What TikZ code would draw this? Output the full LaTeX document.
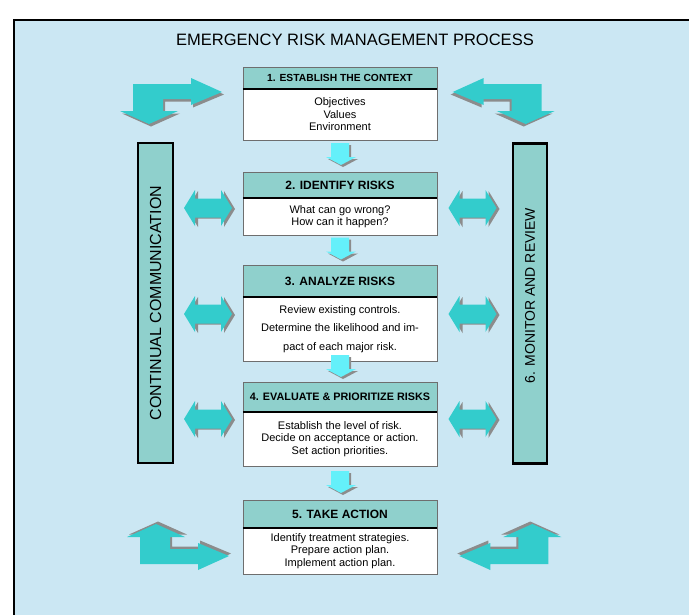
\documentclass[tikz,border=0pt]{standalone}
\usepackage{fontspec}
\setmainfont{Liberation Sans}
\usetikzlibrary{calc}
\definecolor{bgblue}{RGB}{203,231,243}
\definecolor{hdrteal}{RGB}{143,208,204}
\definecolor{arrowteal}{RGB}{51,204,204}
\definecolor{downcyan}{RGB}{100,240,250}
\definecolor{shadowgray}{RGB}{140,140,140}
\definecolor{boxgray}{RGB}{110,110,110}

\newcommand{\bentpath}{(0,0) -- (58,0) -- (58,-6) -- (89,8) -- (58,21) -- (58,15) -- (30,15) -- (30,27) -- (45,27) -- (16,40) -- (-13,27) -- (0,27) -- cycle}
\newcommand{\dblpath}{(-24,0) -- (-13,-18) -- (-13,-9.5) -- (13,-9.5) -- (13,-18) -- (24,0) -- (13,18) -- (13,9.5) -- (-13,9.5) -- (-13,18) -- cycle}
\newcommand{\downpath}{(-9,-11) -- (9,-11) -- (9,3) -- (16,3) -- (1,11) -- (-14,3) -- (-9,3) -- cycle}

\begin{document}
\begin{tikzpicture}[x=1pt, y=-1pt,
        hdr/.style={draw=boxgray, fill=hdrteal, minimum width=194pt, inner sep=0pt, font=\bfseries\fontsize{12}{14}\selectfont},
        body/.style={draw=boxgray, fill=white, minimum width=194pt, inner sep=0pt, align=center, font=\fontsize{11}{12.5}\selectfont},
        sepline/.style={line width=2.5pt, black},
        sidebar/.style={draw=black, line width=2.5pt, fill=hdrteal, rotate=90, minimum width=320pt, inner sep=0pt},
        blockarrow/.style={fill=arrowteal},
        blockshadow/.style={fill=shadowgray}]
        \useasboundingbox (0,0) rectangle (689,614);
        \clip (0,0) rectangle (689,614);
        \fill[bgblue] (14,20) rectangle (700,620);
        \draw[line width=1.2pt] (14,625) -- (14,20) -- (700,20);

        \node[font=\fontsize{16.5}{18}\selectfont] (title) at (355,40) {EMERGENCY RISK MANAGEMENT PROCESS};

        % process steps
        \node[hdr, minimum height=22pt, font=\bfseries\fontsize{10.3}{12}\selectfont] (h1) at (340,78) {1. ESTABLISH THE CONTEXT};
        \node[body, minimum height=51pt] (b1) at (340,114.5) {Objectives\\Values\\Environment};
        \node[hdr, minimum height=26pt] (h2) at (340,185) {2. IDENTIFY RISKS};
        \node[body, minimum height=37pt] (b2) at (340,216.5) {What can go wrong?\\How can it happen?};
        \node[hdr, minimum height=32pt] (h3) at (340,281) {3. ANALYZE RISKS};
        \node[body, minimum height=64pt, font=\fontsize{11}{18.5}\selectfont] (b3) at (340,329) {Review existing controls.\\Determine the likelihood and im-\\pact of each major risk.};
        \node[hdr, minimum height=30pt, font=\bfseries\fontsize{10.8}{12}\selectfont] (h4) at (340,397) {4. EVALUATE \& PRIORITIZE RISKS};
        \node[body, minimum height=54pt] (b4) at (340,439) {Establish the level of risk.\\Decide on acceptance or action.\\Set action priorities.};
        \node[hdr, minimum height=28pt] (h5) at (340,514) {5. TAKE ACTION};
        \node[body, minimum height=46pt] (b5) at (340,551) {Identify treatment strategies.\\Prepare action plan.\\Implement action plan.};
        \foreach \h in {h1,h2,h3,h4,h5}
            \draw[sepline] (\h.south west) -- (\h.south east);

        % side bars
        \node[sidebar, minimum height=35pt, font=\fontsize{16}{18}\selectfont] (comm) at (155.5,303) {CONTINUAL COMMUNICATION\hspace{10pt}};
        \node[sidebar, minimum height=34pt, font=\fontsize{14}{16}\selectfont] (monitor) at (530,303.5) {\hspace{16pt}6. MONITOR AND REVIEW};

        % arrows between steps
        \foreach \a/\b/\d in {b1/h2/-2, b2/h3/-1.5, b3/h4/-5.5, b4/h5/-1}{
            \begin{scope}[shift={($(\a.south)!.5!(\b.north)+(0,\d)$)}]
                \fill[blockshadow, shift={(2,2)}] \downpath;
                \fill[downcyan] \downpath;
            \end{scope}
        }

        % double arrows
        \foreach \cx in {208,472.5}
            \foreach \cy in {208,314,419}{
                \begin{scope}[shift={(\cx,\cy)}]
                    \fill[blockshadow, shift={(3,1)}] \dblpath;
                    \fill[blockarrow] \dblpath;
                \end{scope}
            }

        % corner arrows
        \foreach \px/\py/\sx/\sy in {133/84/1/1, 541.7/84/-1/1, 140/564/1/-1, 548.3/564/-1/-1}{
            \begin{scope}[shift={(\px,\py)}, xscale=\sx, yscale=\sy]
                \fill[blockshadow, shift={(2,2.5)}] \bentpath;
                \fill[blockarrow] \bentpath;
            \end{scope}
        }
    \end{tikzpicture}
\end{document}
